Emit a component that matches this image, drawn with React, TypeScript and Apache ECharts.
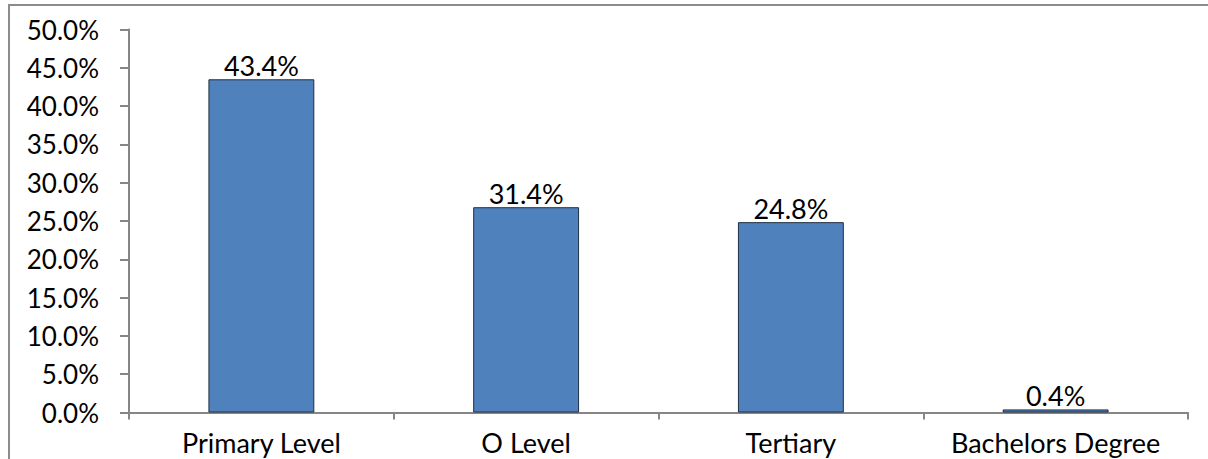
import React, { useEffect, useRef } from "react";
import * as echarts from "echarts";

const categories = ["Primary Level", "O Level", "Tertiary", "Bachelors Degree"];
const barValues = [43.5, 26.8, 24.85, 0.4];
const labelTexts = ["43.4%", "31.4%", "24.8%", "0.4%"];
const yMin = 0;
const yMax = 50;
const yStep = 5;

export default function App() {
  const ref = useRef<HTMLDivElement>(null);
  useEffect(() => {
    document.body.style.margin = "0";
    const chart = echarts.init(ref.current!, null, { renderer: "svg" });
    const font = "Lato, 'Noto Sans', sans-serif";
    chart.setOption({
      animation: false,
      backgroundColor: "#ffffff",
      graphic: [
        {
          type: "rect",
          shape: { x: 9, y: 5, width: 1400, height: 600 },
          style: { fill: "none", stroke: "#8c8c8c", lineWidth: 2 },
          silent: true,
        },
      ],
      grid: { left: 129, right: 20, top: 29.5, bottom: 46.5 },
      xAxis: {
        type: "category",
        data: categories,
        axisLine: { lineStyle: { color: "#868686", width: 2 } },
        axisTick: { show: true, length: 7, lineStyle: { color: "#868686", width: 2 } },
        axisLabel: { color: "#000", fontSize: 27, fontFamily: font, margin: 16, interval: 0 },
      },
      yAxis: {
        type: "value",
        min: yMin,
        max: yMax,
        interval: yStep,
        splitLine: { show: false },
        axisLine: { show: true, lineStyle: { color: "#868686", width: 2 } },
        axisTick: { show: true, length: 9, lineStyle: { color: "#868686", width: 2 } },
        axisLabel: {
          color: "#000",
          fontSize: 26,
          fontFamily: font,
          margin: 30,
          formatter: (v: number) => v.toFixed(1) + "%",
        },
      },
      series: [
        {
          type: "bar",
          data: barValues,
          barWidth: "40%",
          itemStyle: { color: "#4F81BD", borderColor: "#1f2f44", borderWidth: 1 },
          label: {
            show: true,
            position: "top",
            distance: 0,
            color: "#000",
            fontSize: 27,
            fontFamily: font,
            formatter: (p: any) => labelTexts[p.dataIndex],
          },
        },
      ],
    });
    return () => chart.dispose();
  }, []);
  return <div ref={ref} style={{ width: 1208, height: 459 }} />;
}
